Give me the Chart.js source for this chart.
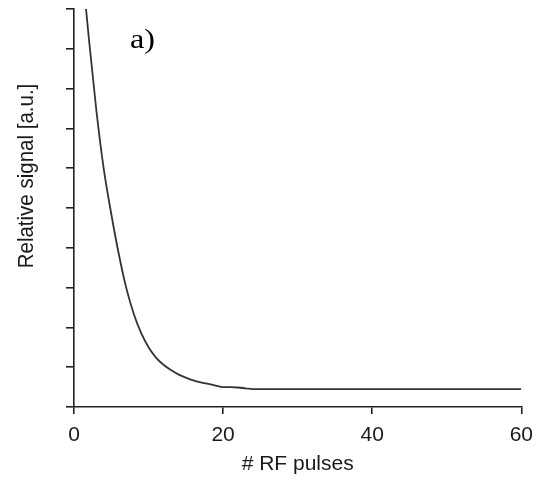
<!DOCTYPE html>
<html>
<head>
<meta charset="utf-8">
<script src="https://cdn.jsdelivr.net/npm/chart.js@4/dist/chart.umd.min.js"></script>
<style>
  html, body { margin: 0; padding: 0; background: #fff; }
  #wrap { width: 542px; height: 481px; position: relative; }
</style>
</head>
<body>
<div id="wrap"><canvas id="c" width="542" height="481"></canvas></div>
<script>
// Data
const pulses = [1, 2, 3, 4, 5, 6, 7, 8, 9, 10, 11, 12, 13, 14, 15, 16, 17, 18, 19, 20, 21, 22, 23, 24, 30, 40, 50, 60];
const signal = [11.2, 9.25, 7.45, 5.97, 4.85, 3.85, 3.0, 2.35, 1.86, 1.5, 1.24, 1.06, 0.93, 0.82, 0.74, 0.67, 0.62, 0.58, 0.54, 0.5, 0.5, 0.49, 0.47, 0.45, 0.45, 0.45, 0.45, 0.45];
const xTicks = [0, 20, 40, 60];
const yTitle = "Relative signal [a.u.]";
const xTitle = "# RF pulses";
const panelLabel = "a)";

const FONT = "'Liberation Sans', Arial, Helvetica, sans-serif";
const SERIF = "'Liberation Serif', 'Times New Roman', serif";

const textPlugin = {
  id: 'textPlugin',
  afterDraw(chart) {
    const ctx = chart.ctx;
    ctx.save();
    ctx.fillStyle = '#1a1a1a';
    ctx.font = "20.5px " + FONT;
    ctx.textAlign = 'center';
    ctx.textBaseline = 'middle';
    ctx.translate(27, 176);
    ctx.rotate(-Math.PI / 2);
    ctx.scale(1, 1.1);
    ctx.fillText(yTitle, 0, 0);
    ctx.restore();

    ctx.save();
    ctx.fillStyle = '#000';
    ctx.textAlign = 'left';
    ctx.textBaseline = 'alphabetic';
    ctx.font = "28px " + SERIF;
    ctx.translate(130, 48);
    ctx.scale(1.15, 1);
    ctx.fillText(panelLabel, 0, 0);
    ctx.restore();
  }
};

new Chart(document.getElementById('c'), {
  type: 'line',
  data: {
    datasets: [{
      data: pulses.map((x, i) => ({ x: x, y: signal[i] })),
      borderColor: '#333',
      borderWidth: 1.8,
      pointRadius: 0,
      fill: false,
      cubicInterpolationMode: 'monotone'
    }]
  },
  options: {
    responsive: false,
    animation: false,
    layout: { padding: { top: 9, right: 20, left: 0, bottom: 0 } },
    plugins: { legend: { display: false }, tooltip: { enabled: false } },
    scales: {
      x: {
        type: 'linear',
        min: 0, max: 60,
        afterBuildTicks(scale) { scale.ticks = xTicks.map(v => ({ value: v })); },
        afterFit(scale) { scale.height = 74; },
        border: { color: '#222', width: 1.6 },
        grid: { drawOnChartArea: false, drawTicks: true, tickLength: 7, color: '#222', lineWidth: 1.6 },
        ticks: { color: '#1a1a1a', font: { family: FONT, size: 21 }, padding: 9, maxRotation: 0 },
        title: { display: true, text: xTitle, color: '#1a1a1a', font: { family: FONT, size: 21 }, padding: { top: 4 } }
      },
      y: {
        type: 'linear',
        min: 0, max: 10,
        afterFit(scale) { scale.width = 74; },
        border: { color: '#222', width: 1.6 },
        grid: { drawOnChartArea: false, drawTicks: true, tickLength: 8, color: '#222', lineWidth: 1.6 },
        ticks: { stepSize: 1, callback: () => '', padding: 0 }
      }
    }
  },
  plugins: [textPlugin]
});
</script>
</body>
</html>
